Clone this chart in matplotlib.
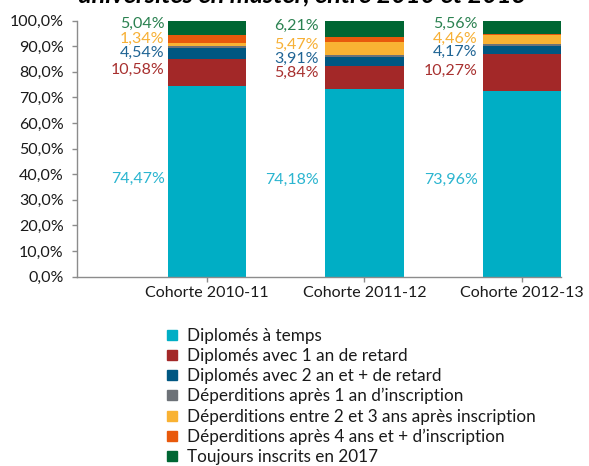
import matplotlib
matplotlib.use("Agg")
import matplotlib.pyplot as plt
from matplotlib.lines import Line2D
import numpy as np

plt.rcParams['font.family'] = ['Lato', 'DejaVu Sans']

# ---- data ----
categories = ["Cohorte 2010-11", "Cohorte 2011-12", "Cohorte 2012-13"]
series_names = [
    "Diplomés à temps",
    "Diplomés avec 1 an de retard",
    "Diplomés avec 2 an et + de retard",
    "Déperditions après 1 an d\u2019inscription",
    "Déperditions entre 2 et 3 ans après inscription",
    "Déperditions après 4 ans et + d\u2019inscription",
    "Toujours inscrits en 2017",
]
# bar heights (%)
diplomes_temps = [74.3, 73.25, 72.5]
diplomes_1an = [10.6, 8.95, 14.55]
diplomes_2an = [4.55, 3.55, 3.15]
deperd_1an = [0.5, 0.95, 0.75]
deperd_2_3 = [1.2, 4.9, 3.35]
deperd_4plus = [3.1, 1.95, 0.4]
toujours_inscrits = [5.8, 6.45, 5.3]

# data labels shown on the chart (text as printed)
lbl_temps = ["74,47%", "74,18%", "73,96%"]
lbl_1an = ["10,58%", "5,84%", "10,27%"]
lbl_2an = ["4,54%", "3,91%", "4,17%"]
lbl_2_3 = ["1,34%", "5,47%", "4,46%"]
lbl_inscrits = ["5,04%", "6,21%", "5,56%"]

yticks = [0, 10, 20, 30, 40, 50, 60, 70, 80, 90, 100]
ytick_labels = ["0,0%", "10,0%", "20,0%", "30,0%", "40,0%", "50,0%",
                "60,0%", "70,0%", "80,0%", "90,0%", "100,0%"]

title = "universités en master, entre 2010 et 2013"

# ---- style ----
colors = ["#00AEC5", "#A32828", "#005782", "#6D7278", "#F9B233", "#E8590C", "#006633"]
label_colors = {"temps": "#2BB5D0", "1an": "#A8302F", "2an": "#1F6494",
                "2_3": "#F7B035", "inscrits": "#2A8150"}

W, H = 589, 466
fig = plt.figure(figsize=(W / 100, H / 100), dpi=100)
ax = fig.add_axes([77 / W, 1 - 276.6 / H, (561 - 77) / W, (276.6 - 20.5) / H])

x = np.arange(len(categories))
bar_w = 0.5
series = [diplomes_temps, diplomes_1an, diplomes_2an, deperd_1an,
          deperd_2_3, deperd_4plus, toujours_inscrits]
bottom = np.zeros(len(categories))
for vals, c, name in zip(series, colors, series_names):
    ax.bar(x, vals, bar_w, bottom=bottom, color=c, label=name, linewidth=0)
    bottom += np.array(vals)

ax.set_xlim(-0.825, 2.248)
ax.set_ylim(0, 100)
ax.set_yticks(yticks)
ax.set_yticklabels(ytick_labels)
ax.set_xticks(x)
ax.set_xticklabels(categories)

for s in ["top", "right"]:
    ax.spines[s].set_visible(False)
for s in ["left", "bottom"]:
    ax.spines[s].set_color("#8C8C8C")
    ax.spines[s].set_linewidth(1.0)
ax.tick_params(axis="y", length=3.5, width=1, color="#8C8C8C", pad=6,
               labelsize=11.5, labelcolor="#1a1a1a")
ax.tick_params(axis="x", length=3.5, width=1, color="#8C8C8C", pad=3,
               labelsize=11.5, labelcolor="#1a1a1a")

# data labels (positions in % units, placed left of each bar)
label_y = {
    "inscrits": [98.6, 98.0, 98.6],
    "2_3": [92.8, 90.5, 92.9],
    "2an": [87.3, 85.0, 87.6],
    "1an": [80.7, 79.6, 80.4],
    "temps": [38.1, 37.7, 37.7],
}
label_text = {"inscrits": lbl_inscrits, "2_3": lbl_2_3, "2an": lbl_2an,
              "1an": lbl_1an, "temps": lbl_temps}
gap_px = [3, 6, 5]
for key, texts in label_text.items():
    for i, t in enumerate(texts):
        ax.annotate(t, xy=(x[i] - bar_w / 2, label_y[key][i]),
                    xytext=(-gap_px[i] * 0.72, 0), textcoords="offset points",
                    ha="right", va="center", fontsize=11.5,
                    color=label_colors[key])

# title (clipped at top of the image, as in the source)
fig.text(302 / W, 1 - 2.8 / H, title, ha="center", va="baseline",
         fontsize=18.2, fontweight="bold", fontstyle="italic", color="#000000")

# legend
handles = [Line2D([], [], marker="s", linestyle="none", markersize=7.5,
                  markerfacecolor=c, markeredgecolor=c) for c in colors]
fig.legend(handles, series_names, loc="upper left",
           bbox_to_anchor=(165 / W, 1 - 327.5 / H), frameon=False,
           fontsize=12.3, handlelength=0.8, handletextpad=0.49,
           labelspacing=0.245, borderaxespad=0, borderpad=0,
           labelcolor="#1a1a1a")

fig.savefig("out.png", dpi=100)
